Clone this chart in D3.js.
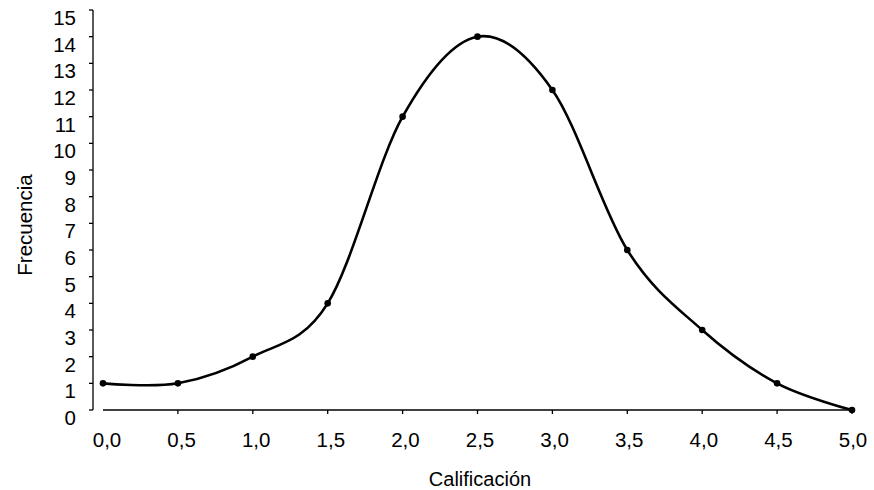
<!DOCTYPE html>
<html>
<head>
<meta charset="utf-8">
<script src="https://cdn.jsdelivr.net/npm/d3@7"></script>
<style>
  html, body { margin: 0; padding: 0; background: #fff; }
  svg text { font-family: Arial, "Liberation Sans", sans-serif; fill: #000; }
</style>
</head>
<body>
<svg id="chart" width="874" height="490"></svg>
<script>
// Calificación (grade) vs. frecuencia
const grades = [0.0, 0.5, 1.0, 1.5, 2.0, 2.5, 3.0, 3.5, 4.0, 4.5, 5.0];
const frequencies = [1, 1, 2, 4, 11, 14, 12, 6, 3, 1, 0];
const yTicks = d3.range(0, 16);
const xTickLabels = grades.map(g => g.toFixed(1).replace(".", ","));

const svg = d3.select("#chart");

const x = d3.scaleLinear().domain([0, 5]).range([103, 852]);
// tick labels sit slightly right of their ticks at the low end
const xLabel = d3.scaleLinear().domain([0, 5]).range([107, 853]);
const y = d3.scaleLinear().domain([0, 15]).range([410, 10]);
const yAxisX = 93;

// Y axis
const yAxis = svg.append("g").attr("transform", `translate(${yAxisX},0)`);
yAxis.append("line")
  .attr("x1", 0).attr("x2", 0)
  .attr("y1", y(15)).attr("y2", y(0))
  .attr("stroke", "#000").attr("stroke-width", 1.3);
yAxis.selectAll("line.tick").data(yTicks).join("line")
  .attr("class", "tick")
  .attr("x1", -4).attr("x2", 0)
  .attr("y1", d => y(d)).attr("y2", d => y(d))
  .attr("stroke", "#000").attr("stroke-width", 1.3);
yAxis.selectAll("text").data(yTicks).join("text")
  .attr("x", -17)
  .attr("y", d => y(d) + 7.5)
  .attr("text-anchor", "end")
  .attr("dominant-baseline", "central")
  .attr("font-size", 20.5)
  .text(d => d);

// X axis
const xAxis = svg.append("g").attr("transform", `translate(0,${y(0)})`);
xAxis.append("line")
  .attr("x1", x(0)).attr("x2", x(5))
  .attr("y1", 0).attr("y2", 0)
  .attr("stroke", "#000").attr("stroke-width", 1.3);
xAxis.selectAll("line.tick").data(grades.slice(1)).join("line")
  .attr("class", "tick")
  .attr("x1", d => x(d)).attr("x2", d => x(d))
  .attr("y1", 0).attr("y2", 4)
  .attr("stroke", "#000").attr("stroke-width", 1.3);
xAxis.selectAll("text").data(grades).join("text")
  .attr("x", d => xLabel(d))
  .attr("y", 29)
  .attr("text-anchor", "middle")
  .attr("dominant-baseline", "central")
  .attr("font-size", 20.5)
  .text((d, i) => xTickLabels[i]);

// Axis titles
svg.append("text")
  .attr("x", 480).attr("y", 479)
  .attr("text-anchor", "middle")
  .attr("dominant-baseline", "central")
  .attr("font-size", 20)
  .text("Calificación");

svg.append("text")
  .attr("transform", "translate(24,225) rotate(-90)")
  .attr("text-anchor", "middle")
  .attr("dominant-baseline", "central")
  .attr("font-size", 20.5)
  .text("Frecuencia");

// Smoothed frequency line
const pts = grades.map((g, i) => [g, frequencies[i]]);
const line = d3.line()
  .x(d => x(d[0]))
  .y(d => y(d[1]))
  .curve(d3.curveCardinal.tension(0));

svg.append("path")
  .datum(pts)
  .attr("d", line)
  .attr("fill", "none")
  .attr("stroke", "#000")
  .attr("stroke-width", 2.6);

svg.selectAll("circle.pt").data(pts).join("circle")
  .attr("class", "pt")
  .attr("cx", d => x(d[0]))
  .attr("cy", d => y(d[1]))
  .attr("r", 3.3)
  .attr("fill", "#000");
</script>
</body>
</html>
